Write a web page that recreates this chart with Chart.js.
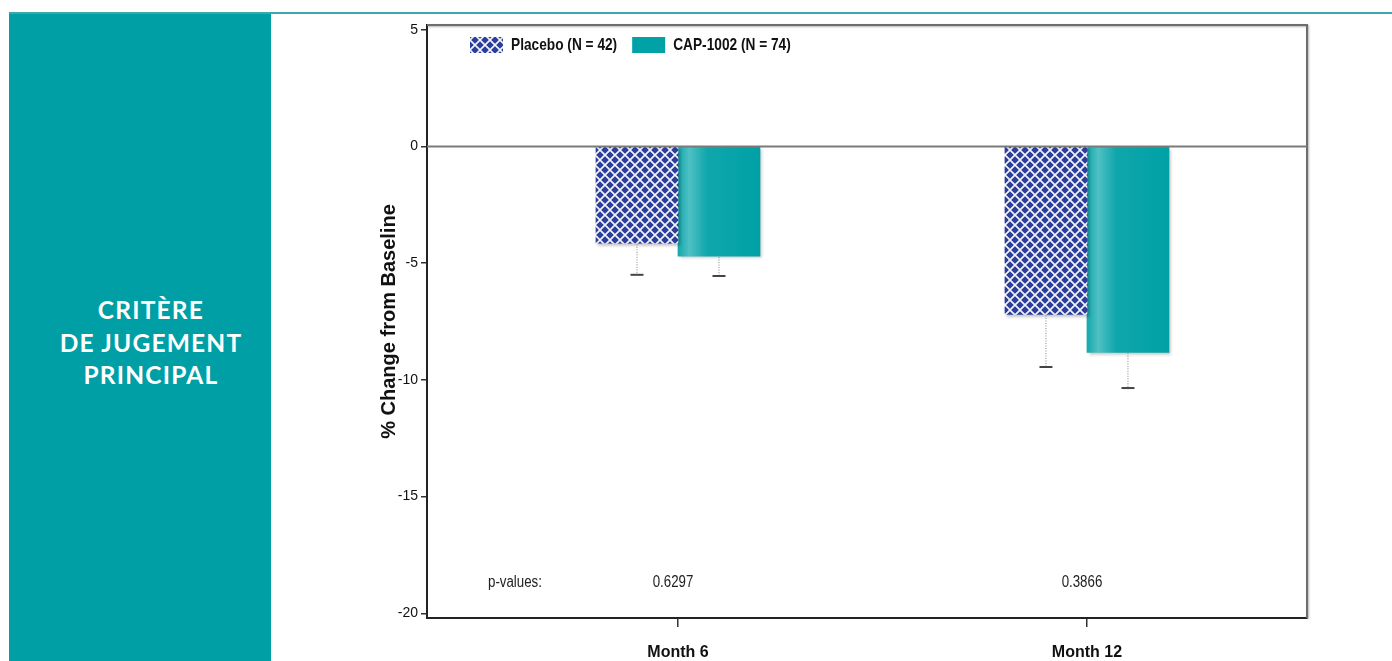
<!DOCTYPE html>
<html>
<head>
<meta charset="utf-8">
<script src="https://cdn.jsdelivr.net/npm/chart.js@4.4.1/dist/chart.umd.min.js"></script>
<style>
  html, body { margin: 0; padding: 0; background: #fff; width: 1392px; height: 661px; overflow: hidden; }
  #topline { position: absolute; left: 9px; top: 12px; width: 1383px; height: 2px; background: #3aa9ae; }
  #panel { position: absolute; left: 9px; top: 14px; width: 262px; height: 647px; background: #009fa6; }
  #panel div { position: absolute; left: 22px; right: 0; top: 280px; text-align: center; color: #fff;
               font-family: Lato, "Open Sans", sans-serif; font-weight: 700; font-size: 24.5px;
               line-height: 32.5px; letter-spacing: 1.2px; }
  #wrap { position: absolute; left: 0; top: 0; width: 1392px; height: 661px; }
</style>
</head>
<body>
<div id="topline"></div>
<div id="panel"><div>CRITÈRE<br>DE JUGEMENT<br>PRINCIPAL</div></div>
<div id="wrap"><canvas id="chart" width="1392" height="661"></canvas></div>
<script>
// values
const categories = ['Month 6', 'Month 12'];
const monthPositions = [6, 12];
const seriesLabels = ['Placebo (N = 42)', 'CAP-1002 (N = 74)'];
const placeboMeans = [-4.15, -7.2];
const capMeans = [-4.7, -8.82];
const placeboLower = [-5.5, -9.45];
const capLower = [-5.55, -10.35];
const pValues = ['0.6297', '0.3866'];
const yTicks = [5, 0, -5, -10, -15, -20];

const SANS = '"Liberation Sans", Arial, sans-serif';
const TEAL = '#00a2a7';
const BAR_W = 82;
const SQUEEZE = 0.83;   // the original text is condensed

function makeHatch() {
    const c = document.createElement('canvas');
    c.width = 10; c.height = 10;
    const g = c.getContext('2d');
    g.fillStyle = '#2b3e9b';
    g.fillRect(0, 0, 10, 10);
    g.strokeStyle = 'rgba(255,255,255,0.95)';
    g.lineWidth = 1.6;
    g.beginPath();
    g.moveTo(-2, -2); g.lineTo(12, 12);
    g.moveTo(12, -2); g.lineTo(-2, 12);
    g.stroke();
    return g.createPattern(c, 'repeat');
}
const hatch = makeHatch();

function tealGradient(ctx, x0, w) {
    const g = ctx.createLinearGradient(x0, 0, x0 + w, 0);
    g.addColorStop(0, '#14a8ad');
    g.addColorStop(0.14, '#4fc0c3');
    g.addColorStop(0.36, '#0ea6ab');
    g.addColorStop(1, '#00a1a6');
    return g;
}

// condensed text: squeeze horizontally around the anchor point
function narrowText(ctx, text, x, y, align) {
    ctx.save();
    ctx.translate(x, y);
    ctx.scale(SQUEEZE, 1);
    ctx.textAlign = align;
    ctx.fillText(text, 0, 0);
    ctx.restore();
    return ctx.measureText(text).width * SQUEEZE;
}

const extras = {
    id: 'extras',
    beforeDatasetsDraw(chart) {
        const { ctx } = chart;
        ctx.save();
        ctx.shadowColor = 'rgba(0,0,0,0.25)';
        ctx.shadowBlur = 3;
        ctx.shadowOffsetX = 2;
        ctx.shadowOffsetY = 2;
    },
    afterDatasetsDraw(chart) {
        const { ctx, chartArea: a, scales: { x, y } } = chart;
        ctx.restore();

        // frame
        ctx.save();
        ctx.strokeStyle = '#6e6e6e';
        ctx.lineWidth = 2;
        ctx.shadowColor = 'rgba(0,0,0,0.3)';
        ctx.shadowBlur = 2;
        ctx.shadowOffsetX = 1;
        ctx.shadowOffsetY = 1;
        ctx.beginPath();
        ctx.moveTo(a.left, a.top);
        ctx.lineTo(a.right, a.top);
        ctx.lineTo(a.right, a.bottom);
        ctx.stroke();
        ctx.restore();

        // zero line
        ctx.save();
        const y0 = y.getPixelForValue(0);
        ctx.strokeStyle = '#7a7a7a';
        ctx.lineWidth = 2;
        ctx.beginPath();
        ctx.moveTo(a.left, y0);
        ctx.lineTo(a.right, y0);
        ctx.stroke();

        // lower error bars
        const lows = [placeboLower, capLower];
        lows.forEach((low, d) => {
            chart.getDatasetMeta(d).data.forEach((el, i) => {
                const yl = y.getPixelForValue(low[i]);
                ctx.setLineDash([1, 1.5]);
                ctx.strokeStyle = '#808080';
                ctx.lineWidth = 1;
                ctx.beginPath();
                ctx.moveTo(el.x, el.y + 1);
                ctx.lineTo(el.x, yl);
                ctx.stroke();
                ctx.setLineDash([]);
                ctx.strokeStyle = '#444';
                ctx.lineWidth = 2;
                ctx.beginPath();
                ctx.moveTo(el.x - 6.5, yl);
                ctx.lineTo(el.x + 6.5, yl);
                ctx.stroke();
            });
        });

        // legend inside the frame
        let lx = a.left + 43;
        const ly = a.top + 12;
        ctx.font = 'bold 16.5px ' + SANS;
        ctx.textBaseline = 'middle';
        seriesLabels.forEach((label, d) => {
            ctx.fillStyle = d === 0 ? hatch : TEAL;
            ctx.fillRect(lx, ly, 33, 16);
            ctx.fillStyle = '#111';
            const w = narrowText(ctx, label, lx + 41, ly + 8.5, 'left');
            lx += 41 + w + 15;
        });

        // p-values row
        ctx.font = '16px ' + SANS;
        ctx.fillStyle = '#222';
        const py = y.getPixelForValue(-18.7);
        narrowText(ctx, 'p-values:', a.left + 61, py, 'left');
        pValues.forEach((p, i) => {
            narrowText(ctx, p, x.getPixelForValue(monthPositions[i]) - 5, py, 'center');
        });
        ctx.restore();
    }
};

new Chart(document.getElementById('chart'), {
    type: 'bar',
    data: {
        datasets: [{
            label: seriesLabels[0],
            data: monthPositions.map((m, i) => ({ x: m, y: placeboMeans[i] })),
            backgroundColor: hatch,
            barThickness: BAR_W
        }, {
            label: seriesLabels[1],
            data: monthPositions.map((m, i) => ({ x: m, y: capMeans[i] })),
            backgroundColor: (c) => {
                const chart = c.chart;
                if (!chart.chartArea || c.dataIndex == null) return TEAL;
                const cx = chart.scales.x.getPixelForValue(monthPositions[c.dataIndex]);
                return tealGradient(chart.ctx, cx, BAR_W);
            },
            barThickness: BAR_W
        }]
    },
    options: {
        responsive: false,
        animation: false,
        events: [],
        layout: { padding: { left: 373, top: 25, right: 85, bottom: 0 } },
        plugins: {
            legend: { display: false },
            tooltip: { enabled: false }
        },
        scales: {
            x: {
                type: 'linear',
                offset: false,
                min: 2.318,
                max: 15.228,
                afterBuildTicks: (s) => { s.ticks = monthPositions.map(v => ({ value: v })); },
                afterFit: (s) => { s.height = 43; },
                ticks: {
                    callback: (v, i) => categories[i],
                    font: { family: SANS, weight: 'bold', size: 16 },
                    color: '#111',
                    padding: 16,
                    maxRotation: 0,
                    autoSkip: false
                },
                grid: { offset: false, drawOnChartArea: false, tickLength: 9, color: '#333', lineWidth: 1.5 },
                border: { color: '#222', width: 2 }
            },
            y: {
                min: -20.2,
                max: 5.2,
                afterBuildTicks: (s) => { s.ticks = yTicks.map(v => ({ value: v })); },
                afterFit: (s) => { s.width = 54; },
                ticks: {
                    font: { family: SANS, size: 14 },
                    color: '#111',
                    padding: 3
                },
                grid: { drawOnChartArea: false, tickLength: 6, color: '#333', lineWidth: 1.5 },
                border: { color: '#222', width: 2 },
                title: {
                    display: true,
                    text: '% Change from Baseline',
                    font: { family: SANS, weight: 'bold', size: 20 },
                    color: '#111',
                    padding: 4
                }
            }
        }
    },
    plugins: [extras]
});
</script>
</body>
</html>
